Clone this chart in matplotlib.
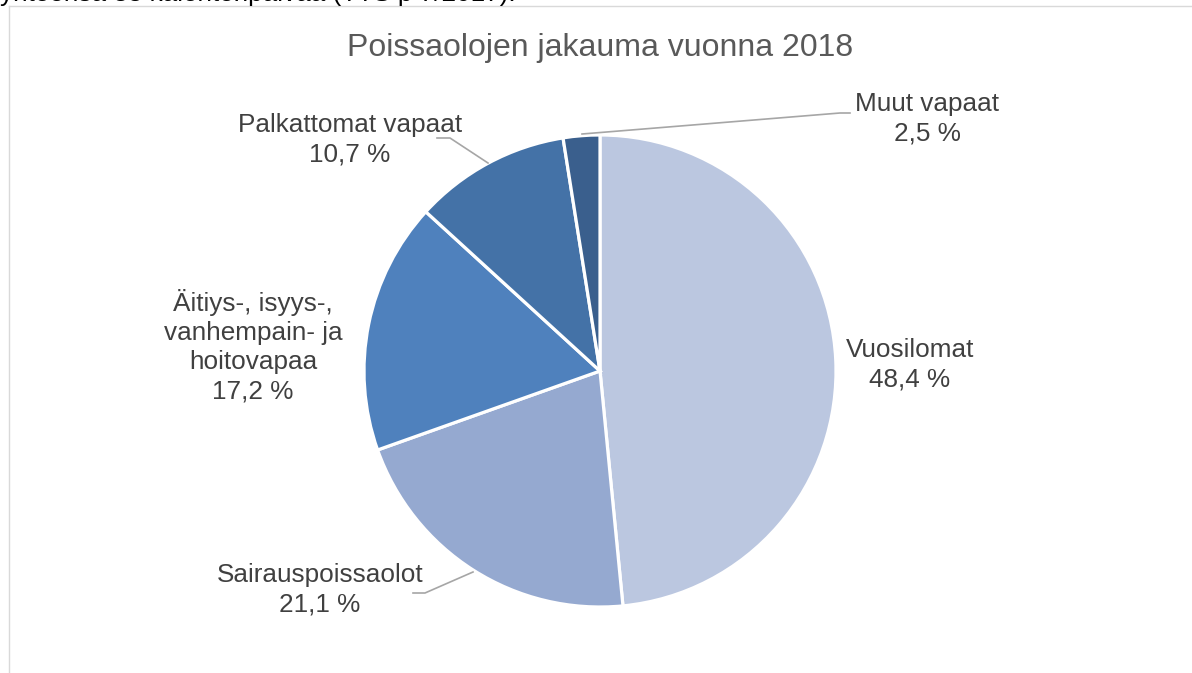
import matplotlib
matplotlib.use("Agg")
import matplotlib.pyplot as plt
from matplotlib.lines import Line2D

plt.rcParams['font.family'] = ['Liberation Sans', 'DejaVu Sans']

# ---- data ----
categories = ["Vuosilomat", "Sairauspoissaolot",
              "Äitiys-, isyys-,\nvanhempain- ja\nhoitovapaa",
              "Palkattomat vapaat", "Muut vapaat"]
values = [48.4, 21.1, 17.2, 10.7, 2.5]
colors = ["#BBC7E0", "#95A9D0", "#4F81BD", "#4472A7", "#3A5F8D"]
title = "Poissaolojen jakauma vuonna 2018"
top_text = "yhteensä 38 kalenteripäivää (TTS p 7/2017)."

W, H = 1192, 673
fig = plt.figure(figsize=(W / 100, H / 100), dpi=100)

# chart border (partly visible)
fig.add_artist(Line2D([8.5 / W, 8.5 / W], [0, 1 - 6 / H], transform=fig.transFigure,
                      color="#D9D9D9", lw=1))
fig.add_artist(Line2D([8.5 / W, 1], [1 - 6 / H, 1 - 6 / H], transform=fig.transFigure,
                      color="#D9D9D9", lw=1))

# clipped text from the surrounding document
fig.text(0 / W, 1 - 1 / H, top_text, fontsize=18.8, color="#000000",
         ha="left", va="baseline")

# pie axes: centre (600, 371) px, radius 236 px
cx, cy, r = 600, 371, 236
ax = fig.add_axes([(cx - r) / W, (H - cy - r) / H, 2 * r / W, 2 * r / H])
ax.pie(values, colors=colors, startangle=90, counterclock=False, radius=1,
       wedgeprops=dict(edgecolor="white", linewidth=2.3))
ax.set_xlim(-1, 1)
ax.set_ylim(-1, 1)
ax.set_aspect("equal")
ax.axis("off")

def px(x, y):
    return ((x - cx) / r, (cy - y) / r)

label_pos = [(910, 365), (320, 590), (253, 346), (350, 140), (927, 119)]
for cat, v, (lx, ly) in zip(categories, values, label_pos):
    dx, dy = px(lx, ly)
    txt = f"{cat}\n{v:.1f} %".replace(".", ",")
    ax.text(dx, dy, txt, ha="center", va="center", fontsize=18.8,
            color="#404040", linespacing=1.28, clip_on=False)

# leader lines (pixel anchors converted to data coords)
leaders = [
    [(413, 593), (425, 593), (473, 572)],
    [(437, 138), (450, 138), (488, 163)],
    [(582, 134), (840, 113), (850, 113)],
]
for pts in leaders:
    xs, ys = zip(*[px(x, y) for x, y in pts])
    ax.plot(xs, ys, color="#A6A6A6", lw=1.2, clip_on=False)

fig.text(600 / W, 1 - 48 / H, title, ha="center", va="center",
         fontsize=23, color="#595959")

fig.savefig("out.png", dpi=100)
